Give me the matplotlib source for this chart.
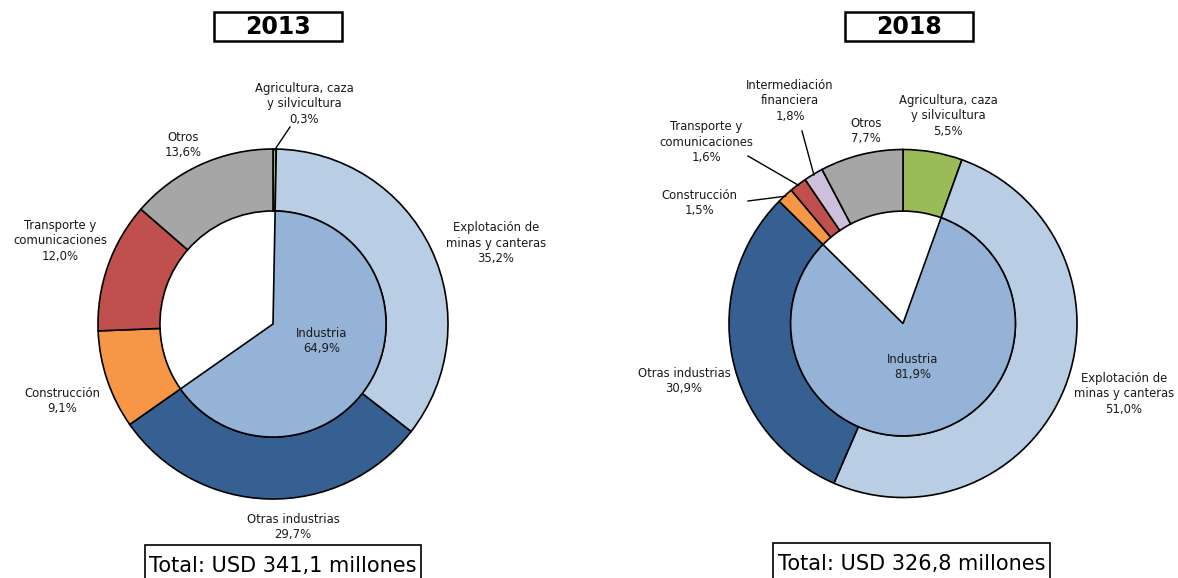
import numpy as np
import matplotlib
matplotlib.use("Agg")
import matplotlib.pyplot as plt
import matplotlib.patches as patches

# data
sectors_2013 = ["Agricultura, caza\ny silvicultura", "Explotación de\nminas y canteras",
                "Otras industrias", "Construcción", "Transporte y\ncomunicaciones", "Otros"]
values_2013 = [0.3, 35.2, 29.7, 9.1, 12.0, 13.6]
industria_2013 = 64.9
total_2013 = "Total: USD 341,1 millones"

sectors_2018 = ["Agricultura, caza\ny silvicultura", "Explotación de\nminas y canteras",
                "Otras industrias", "Construcción", "Transporte y\ncomunicaciones",
                "Intermediación\nfinanciera", "Otros"]
values_2018 = [5.5, 51.0, 30.9, 1.5, 1.6, 1.8, 7.7]
industria_2018 = 81.9
total_2018 = "Total: USD 326,8 millones"

colors = {
    "Agricultura, caza\ny silvicultura": "#9BBB59",
    "Explotación de\nminas y canteras": "#B9CDE5",
    "Otras industrias": "#376092",
    "Construcción": "#F79646",
    "Transporte y\ncomunicaciones": "#C0504D",
    "Intermediación\nfinanciera": "#CCC0DA",
    "Otros": "#A6A6A6",
}
inner_color = "#95B3D7"

W, H = 1178, 578
fig = plt.figure(figsize=(W / 100, H / 100), dpi=100)
plt.rcParams["font.family"] = ["DejaVu Sans"]

HOLE = 0.646
LABEL_FS = 8.4
TXT = "#1a1a1a"


def fmt(v):
    return f"{v:.1f}".replace(".", ",") + "%"


def make_axes(left_px, right_px, cx, cy, r):
    ax = fig.add_axes([left_px / W, 0, (right_px - left_px) / W, 1])
    return ax, (cx, cy, r)


def to_data(geom, x, y):
    cx, cy, r = geom
    return (x - cx) / r, (cy - y) / r


def draw_donut(ax, geom, left_px, right_px, names, values, industria, label_pos, leaders):
    cx, cy, r = geom
    wedges, _ = ax.pie(values, radius=1, colors=[colors[n] for n in names],
                       startangle=90, counterclock=False,
                       wedgeprops=dict(width=1 - HOLE, edgecolor="black", linewidth=1.2))
    rest = sum(values) - values[0] - industria
    inner, _ = ax.pie([values[0], industria, rest], radius=HOLE,
                      colors=["none", inner_color, "none"],
                      startangle=90, counterclock=False,
                      wedgeprops=dict(edgecolor="black", linewidth=1.2))
    inner[0].set_edgecolor("none")
    inner[2].set_edgecolor("none")

    for name, v in zip(names, values):
        x, y = label_pos[name]
        dx, dy = to_data(geom, x, y)
        ax.text(dx, dy, f"{name}\n{fmt(v)}", ha="center", va="center",
                fontsize=LABEL_FS, color=TXT, linespacing=1.25)
    x, y = label_pos["Industria"]
    dx, dy = to_data(geom, x, y)
    ax.text(dx, dy, f"Industria\n{fmt(industria)}", ha="center", va="center",
            fontsize=LABEL_FS, color=TXT, linespacing=1.25)

    # leader lines for the thin slices
    total = sum(values)
    cum = np.cumsum([0] + values)
    for name, (sx, sy) in leaders.items():
        i = names.index(name)
        mid = (cum[i] + values[i] / 2) / total
        ang = np.deg2rad(90 - mid * 360)
        ex, ey = np.cos(ang) * 0.995, np.sin(ang) * 0.995
        tx, ty = to_data(geom, sx, sy)
        ax.plot([tx, ex], [ty, ey], color="black", lw=1.0)

    ax.set_xlim((left_px - cx) / r, (right_px - cx) / r)
    ax.set_ylim((cy - H) / r, cy / r)
    ax.axis("off")


# 2013
lab_2013 = {
    "Agricultura, caza\ny silvicultura": (304, 104),
    "Explotación de\nminas y canteras": (496, 243),
    "Otras industrias": (293, 527),
    "Construcción": (62, 401),
    "Transporte y\ncomunicaciones": (60, 241),
    "Otros": (183, 145),
    "Industria": (322, 341),
}
ax1, g1 = make_axes(0, 589, 273, 324, 175)
draw_donut(ax1, g1, 0, 589, sectors_2013, values_2013, industria_2013, lab_2013,
           {"Agricultura, caza\ny silvicultura": (290, 127)})

# 2018
lab_2018 = {
    "Agricultura, caza\ny silvicultura": (948, 116),
    "Explotación de\nminas y canteras": (1124, 394),
    "Otras industrias": (684, 381),
    "Construcción": (699, 203),
    "Transporte y\ncomunicaciones": (706, 142),
    "Intermediación\nfinanciera": (790, 101),
    "Otros": (866, 131),
    "Industria": (913, 367),
}
ax2, g2 = make_axes(589, 1178, 903, 323.5, 174)
draw_donut(ax2, g2, 589, 1178, sectors_2018, values_2018, industria_2018, lab_2018,
           {"Intermediación\nfinanciera": (802, 131),
            "Transporte y\ncomunicaciones": (748, 156),
            "Construcción": (748, 201)})


def box_text(x0, y0, x1, y1, text, **kw):
    rect = patches.Rectangle((x0 / W, 1 - y1 / H), (x1 - x0) / W, (y1 - y0) / H,
                             transform=fig.transFigure, fill=False,
                             edgecolor="black", linewidth=kw.pop("lw", 1.5))
    fig.add_artist(rect)
    fig.text((x0 + x1) / 2 / W, 1 - (kw.pop("ty", (y0 + y1) / 2)) / H, text,
             ha="center", va="center", **kw)


box_text(214, 12, 342, 41, "2013", fontsize=17, fontweight="bold", lw=1.8)
box_text(845, 12, 973, 41, "2018", fontsize=17, fontweight="bold", lw=1.8)
box_text(145, 545, 421, 590, total_2013, fontsize=15, ty=566, lw=1.2)
box_text(773, 543, 1050, 590, total_2018, fontsize=15, ty=564, lw=1.2)

fig.savefig("out.png", dpi=100)
